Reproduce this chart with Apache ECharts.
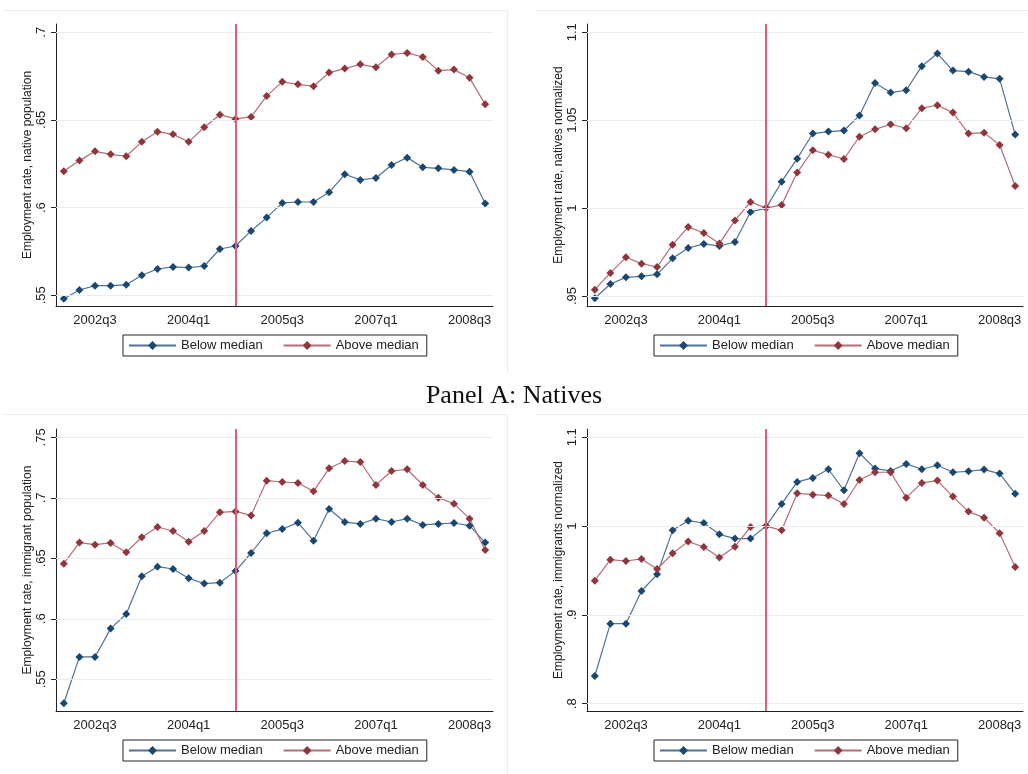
<!DOCTYPE html>
<html>
<head>
<meta charset="utf-8">
<script src="https://cdn.jsdelivr.net/npm/echarts@6/dist/echarts.min.js"></script>
<style>
html,body{margin:0;padding:0;background:#fff;}
#chart{width:1028px;height:774px;}
</style>
</head>
<body>
<div id="chart"></div>
<script>
// ---- Data ----
const quarters = ["2002q1","2002q2","2002q3","2002q4","2003q1","2003q2","2003q3","2003q4",
  "2004q1","2004q2","2004q3","2004q4","2005q1","2005q2","2005q3","2005q4",
  "2006q1","2006q2","2006q3","2006q4","2007q1","2007q2","2007q3","2007q4",
  "2008q1","2008q2","2008q3","2008q4"];
const eventQuarter = "2004q4";
const legendNames = ["Below median", "Above median"];
const panelTitle = "Panel A: Natives";

// Top-left: native employment rate
const nativeBelow = [0.548,0.553,0.5555,0.5555,0.556,0.5614,0.565,0.5662,0.5658,0.5667,0.5764,0.5781,
  0.5867,0.5943,0.6027,0.6032,0.6032,0.6087,0.619,0.6158,0.6169,0.6243,0.6285,0.623,0.6224,0.6215,0.6205,0.6023];
const nativeAbove = [0.6207,0.6268,0.6321,0.6304,0.6293,0.6375,0.6433,0.6418,0.6375,0.6458,0.653,0.6506,
  0.6517,0.6637,0.6717,0.6703,0.6692,0.677,0.6793,0.6817,0.68,0.6873,0.6882,0.6859,0.6781,0.6787,0.674,0.6589];
// Top-right: natives normalized
const nativeNormBelow = [0.9487,0.9568,0.9606,0.9612,0.9623,0.9714,0.9773,0.9796,0.9784,0.9807,0.9978,1.0,
  1.015,1.0281,1.0424,1.0435,1.0441,1.0526,1.0712,1.0657,1.067,1.0807,1.0879,1.0782,1.0776,1.0746,1.0735,1.0418];
const nativeNormAbove = [0.9536,0.9631,0.972,0.9684,0.9665,0.9792,0.9893,0.9858,0.9798,0.993,1.0035,1.0,
  1.0018,1.0202,1.0329,1.0304,1.0279,1.0406,1.0448,1.0477,1.0454,1.0568,1.0585,1.0543,1.0424,1.0429,1.0359,1.0126];
// Bottom-left: immigrant employment rate
const immBelow = [0.5302,0.5685,0.5685,0.5919,0.604,0.6351,0.6431,0.6412,0.6335,0.6291,0.6299,0.6395,
  0.6544,0.6707,0.6742,0.6795,0.6646,0.6908,0.68,0.6784,0.6828,0.68,0.6828,0.6776,0.6784,0.6792,0.677,0.663];
const immAbove = [0.6456,0.663,0.6613,0.6627,0.655,0.6674,0.6759,0.6726,0.6638,0.6726,0.688,0.6888,
  0.6855,0.7142,0.7131,0.7123,0.7054,0.7244,0.7304,0.7296,0.7106,0.7222,0.7236,0.7106,0.7001,0.6952,0.6828,0.6569];
// Bottom-right: immigrants normalized
const immNormBelow = [0.8312,0.8901,0.8901,0.9269,0.9457,0.9952,1.0061,1.0035,0.9907,0.9859,0.9859,1.0,
  1.0249,1.0497,1.0542,1.064,1.0403,1.082,1.0647,1.0621,1.07,1.064,1.0685,1.0606,1.0617,1.0636,1.0591,1.0365];
const immNormAbove = [0.9385,0.9622,0.9607,0.963,0.9517,0.9693,0.9825,0.9765,0.9645,0.9768,0.999,1.0,
  0.9952,1.0369,1.0354,1.0343,1.0249,1.0519,1.0606,1.0606,1.032,1.0486,1.0512,1.0332,1.0163,1.0095,0.9919,0.954];

// Y tick values per panel
const ticksTL = [0.55, 0.6, 0.65, 0.7];
const ticksTR = [0.95, 1.0, 1.05, 1.1];
const ticksBL = [0.55, 0.6, 0.65, 0.7, 0.75];
const ticksBR = [0.8, 0.9, 1.0, 1.1];

const yTitles = ["Employment rate, native population", "Employment rate, natives normalized",
  "Employment rate, immigrant population", "Employment rate, immigrants normalized"];

// ---- Layout / styles ----
const BLUE = '#1a476f', RED = '#90353b', VLINE = '#d8607b', GRIDC = '#e6eef0';
const FONT = 'Liberation Sans, Arial, sans-serif';
const panels = [
  {left:56, top:24, width:437, height:282, min:0.5439, max:0.7047, ticks:ticksTL, below:nativeBelow, above:nativeAbove, legL:123, legT:335},
  {left:587, top:24, width:436, height:282, min:0.9443, max:1.1047, ticks:ticksTR, below:nativeNormBelow, above:nativeNormAbove, legL:654, legT:335},
  {left:56, top:429, width:437, height:282, min:0.5238, max:0.7569, ticks:ticksBL, below:immBelow, above:immAbove, legL:123, legT:740},
  {left:587, top:429, width:436, height:282, min:0.7918, max:1.1093, ticks:ticksBR, below:immNormBelow, above:immNormAbove, legL:654, legT:740}
];

function fmt(v){
  let s = String(Math.round(v*1000)/1000);
  if (s.startsWith('0.')) s = s.slice(1);
  return s;
}
const showTick = (i) => i % 6 === 2;

const grid = [], xAxis = [], yAxis = [], series = [], legend = [];
panels.forEach((p, k) => {
  grid.push({left:p.left, top:p.top, width:p.width, height:p.height, containLabel:false});
  xAxis.push({
    type:'category', gridIndex:k, data:quarters, boundaryGap:true,
    axisLine:{lineStyle:{color:'#222', width:1}},
    axisTick:{interval:showTick, alignWithLabel:true, length:5, lineStyle:{color:'#222'}},
    axisLabel:{interval:showTick, color:'#222', fontFamily:FONT, fontSize:13, margin:8},
    splitLine:{show:false}
  });
  yAxis.push({
    type:'value', gridIndex:k, min:p.min, max:p.max,
    name:yTitles[k], nameLocation:'middle', nameRotate:90, nameGap:21,
    nameTextStyle:{color:'#222', fontFamily:FONT, fontSize:12},
    axisLine:{show:true, lineStyle:{color:'#222', width:1}},
    axisTick:{show:true, length:5, customValues:p.ticks, lineStyle:{color:'#222'}},
    axisLabel:{customValues:p.ticks, rotate:90, color:'#222', fontFamily:FONT, fontSize:13, margin:8, formatter:fmt},
    splitLine:{show:false}
  });
  // gridlines + event line
  series.push({
    type:'line', xAxisIndex:k, yAxisIndex:k, data:[], silent:true, z:1,
    markLine:{silent:true, symbol:'none', label:{show:false},
      lineStyle:{color:GRIDC, width:1, type:'solid'},
      data:p.ticks.map(t => ({yAxis:t}))}
  });
  series.push({
    type:'line', xAxisIndex:k, yAxisIndex:k, data:[], silent:true, z:2,
    markLine:{silent:true, symbol:'none', label:{show:false},
      lineStyle:{color:VLINE, width:2, type:'solid'},
      data:[{xAxis:eventQuarter}]}
  });
  series.push({
    name:legendNames[0], type:'line', xAxisIndex:k, yAxisIndex:k, data:p.below, z:3,
    symbol:'diamond', symbolSize:[8,8], showSymbol:true,
    itemStyle:{color:BLUE}, lineStyle:{color:'#4f7396', width:1.2},
    emphasis:{disabled:true}, animation:false
  });
  series.push({
    name:legendNames[1], type:'line', xAxisIndex:k, yAxisIndex:k, data:p.above, z:3,
    symbol:'diamond', symbolSize:[8,8], showSymbol:true,
    itemStyle:{color:RED}, lineStyle:{color:'#b56d74', width:1.2},
    emphasis:{disabled:true}, animation:false
  });
  legend.push({
    left:p.legL, top:p.legT, orient:'horizontal', data:legendNames,
    itemWidth:47, itemHeight:11, itemGap:20,
    borderColor:'#222', borderWidth:1, borderRadius:0,
    padding:[4,8,4,5],
    textStyle:{color:'#222', fontFamily:FONT, fontSize:13},
    selectedMode:false
  });
});

const chart = echarts.init(document.getElementById('chart'), null, {renderer:'canvas'});
chart.setOption({
  backgroundColor:'#fff',
  animation:false,
  grid, xAxis, yAxis, series, legend,
  graphic:[
    {type:'line', shape:{x1:3,y1:10.5,x2:507,y2:10.5}, style:{stroke:GRIDC, lineWidth:1}, silent:true},
    {type:'line', shape:{x1:507.5,y1:10,x2:507.5,y2:373}, style:{stroke:GRIDC, lineWidth:1}, silent:true},
    {type:'line', shape:{x1:537,y1:10.5,x2:1028,y2:10.5}, style:{stroke:GRIDC, lineWidth:1}, silent:true},
    {type:'line', shape:{x1:3,y1:414.5,x2:507,y2:414.5}, style:{stroke:GRIDC, lineWidth:1}, silent:true},
    {type:'line', shape:{x1:507.5,y1:414,x2:507.5,y2:774}, style:{stroke:GRIDC, lineWidth:1}, silent:true},
    {type:'line', shape:{x1:537,y1:414.5,x2:1028,y2:414.5}, style:{stroke:GRIDC, lineWidth:1}, silent:true},
    {type:'text', left:'center', x:522, top:383,
      style:{text:panelTitle, fill:'#111', font:'26px "Liberation Serif", "Times New Roman", serif'}}
  ]
});
</script>
</body>
</html>
